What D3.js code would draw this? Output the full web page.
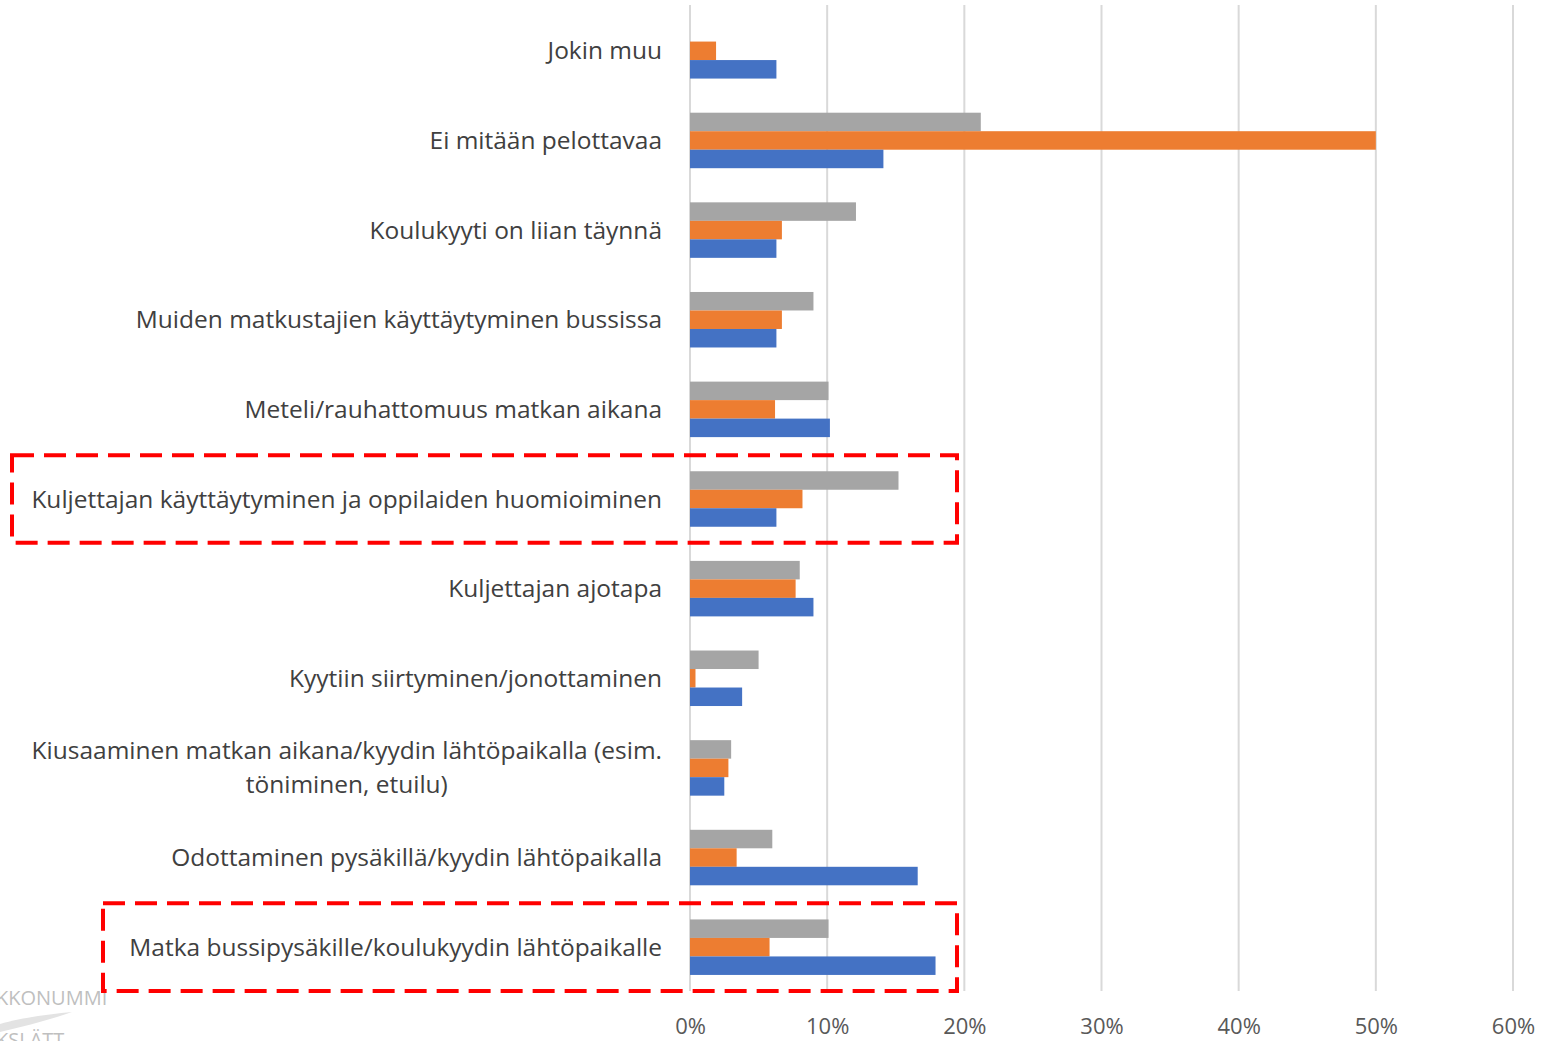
<!DOCTYPE html>
<html><head><meta charset="utf-8">
<script src="https://cdn.jsdelivr.net/npm/d3@7"></script>
<style>
html,body{margin:0;padding:0;background:#fff;overflow:hidden;}
svg{display:block;}
text{font-family:"Open Sans","Noto Sans",sans-serif;}
</style></head>
<body>
<script>
const categories = [
  "Jokin muu",
  "Ei mitään pelottavaa",
  "Koulukyyti on liian täynnä",
  "Muiden matkustajien käyttäytyminen bussissa",
  "Meteli/rauhattomuus matkan aikana",
  "Kuljettajan käyttäytyminen ja oppilaiden huomioiminen",
  "Kuljettajan ajotapa",
  "Kyytiin siirtyminen/jonottaminen",
  "Kiusaaminen matkan aikana/kyydin lähtöpaikalla (esim.|töniminen, etuilu)",
  "Odottaminen pysäkillä/kyydin lähtöpaikalla",
  "Matka bussipysäkille/koulukyydin lähtöpaikalle"
];
const seriesGray   = [0, 21.2, 12.1, 9.0, 10.1, 15.2, 8.0, 5.0, 3.0, 6.0, 10.1];
const seriesOrange = [1.9, 50.0, 6.7, 6.7, 6.2, 8.2, 7.7, 0.4, 2.8, 3.4, 5.8];
const seriesBlue   = [6.3, 14.1, 6.3, 6.3, 10.2, 6.3, 9.0, 3.8, 2.5, 16.6, 17.9];
const xTicks = [0, 10, 20, 30, 40, 50, 60];

const W = 1542, H = 1041;
const svg = d3.select("body").append("svg").attr("width", W).attr("height", H);

const x = d3.scaleLinear().domain([0, 60]).range([690, 1513]);
const y = d3.scaleBand().domain(d3.range(categories.length)).range([6, 992]);
const seriesKeys = ["gray", "orange", "blue"];
const colors = {gray: "#A5A5A5", orange: "#ED7D31", blue: "#4472C4"};
const values = {gray: seriesGray, orange: seriesOrange, blue: seriesBlue};
const barH = 18.5;
const inner = d3.scaleBand().domain(seriesKeys).range([0, barH * 3]);

// gridlines
svg.append("g").selectAll("line").data(xTicks).join("line")
  .attr("x1", d => x(d)).attr("x2", d => x(d))
  .attr("y1", 5).attr("y2", 991)
  .attr("stroke", "#D9D9D9").attr("stroke-width", 2);

// bars
const groups = svg.append("g").selectAll("g").data(d3.range(categories.length)).join("g")
  .attr("transform", i => `translate(0,${y(i) + (y.bandwidth() - barH * 3) / 2})`);
groups.selectAll("rect").data(i => seriesKeys.map(k => ({k, v: values[k][i]}))).join("rect")
  .attr("x", x(0)).attr("y", d => inner(d.k))
  .attr("width", d => x(d.v) - x(0)).attr("height", inner.bandwidth())
  .attr("fill", d => colors[d.k]);

// x tick labels
const xAxis = d3.axisBottom(x).tickValues(xTicks).tickFormat(d => d + "%").tickSize(0).tickPadding(0);
const gx = svg.append("g").attr("transform", "translate(0,1018)").call(xAxis);
gx.select(".domain").remove();
gx.selectAll("text").attr("fill", "#595959").style("font-size", "22px")
  .style("font-family", '"Open Sans","Noto Sans",sans-serif');

// category labels
const labelG = svg.append("g");
const probe = labelG.append("text").style("font-size", "22px").text(categories[5]);
const fs = 22 * 631 / probe.node().getComputedTextLength();
probe.remove();

categories.forEach((c, i) => {
  const lines = c.split("|");
  const cy = y(i) + y.bandwidth() / 2;
  if (lines.length === 1) {
    labelG.append("text").attr("x", 662).attr("y", cy).attr("dy", "0.35em")
      .attr("text-anchor", "end").attr("fill", "#404040").style("font-size", fs + "px").text(lines[0]);
  } else {
    const t0 = labelG.append("text").attr("x", 662).attr("y", cy - 17).attr("dy", "0.35em")
      .attr("text-anchor", "end").attr("fill", "#404040").style("font-size", fs + "px").text(lines[0]);
    const w0 = t0.node().getComputedTextLength();
    labelG.append("text").attr("x", 662 - w0 / 2).attr("y", cy + 17).attr("dy", "0.35em")
      .attr("text-anchor", "middle").attr("fill", "#404040").style("font-size", fs + "px").text(lines[1]);
  }
});

// logo remnant (cut off at the edge, as in the reference)
const logo = svg.append("g");
logo.append("text").attr("x", -4).attr("y", 1005).attr("fill", "#BFBFBF")
  .style("font-size", "20px").text("KKONUMMI");
logo.append("path")
  .attr("d", "M0,1024 C20,1018 50,1014 72,1012 C50,1020 25,1026 0,1032 Z")
  .attr("fill", "#E3E3E3");
logo.append("text").attr("x", -4).attr("y", 1047).attr("fill", "#BFBFBF")
  .style("font-size", "20px").text("KSLÄTT");

// highlight boxes
const boxes = [{i: 5, x0: 12}, {i: 10, x0: 103}];
svg.append("g").selectAll("rect").data(boxes).join("rect")
  .attr("x", d => d.x0).attr("y", d => y(d.i) + 1)
  .attr("width", d => 957 - d.x0).attr("height", d => y.bandwidth() - 2)
  .attr("fill", "none").attr("stroke", "#FF0000").attr("stroke-width", 4)
  .attr("stroke-dasharray", "22,10");
</script>
</body></html>
